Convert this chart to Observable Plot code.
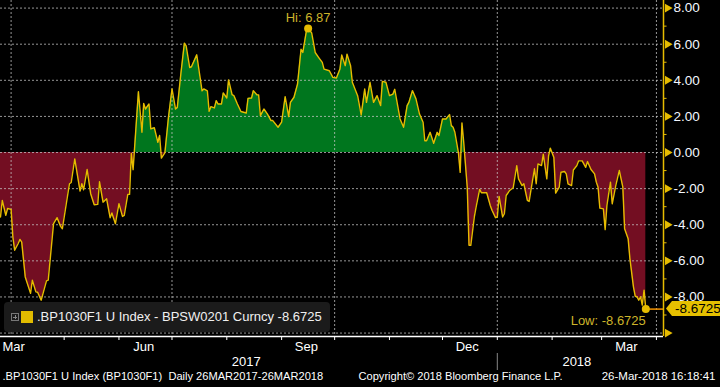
<!DOCTYPE html>
<html>
<head>
<meta charset="utf-8">
<script src="https://cdn.jsdelivr.net/npm/d3@7"></script>
<script src="https://cdn.jsdelivr.net/npm/@observablehq/plot@0.6"></script>
<style>
  html, body { margin: 0; padding: 0; background: #000; }
  #wrap { position: relative; width: 720px; height: 387px; overflow: hidden; background: #000; }
  #legend { position: absolute; left: 4px; top: 302px; width: 326px; height: 30px; background: #1b1b1b; border-radius: 4px;
            font-family: "Liberation Sans", Arial, sans-serif; font-size: 13px; color: #f0f0f0; }
  #legend .ico { position: absolute; left: 7px; top: 11px; width: 6px; height: 6px; border: 1px solid #777; }
  #legend .ico:before { content: ""; position: absolute; left: 1px; top: 3px; width: 4px; height: 1px; background: #888; }
  #legend .ico:after { content: ""; position: absolute; left: 3px; top: 1px; width: 1px; height: 4px; background: #888; }
  #legend .sw { position: absolute; left: 17px; top: 9px; width: 12px; height: 12px; background: #e2bc00; }
  #legend .tx { position: absolute; left: 33px; top: 7px; white-space: nowrap; }
</style>
</head>
<body>
<div id="wrap"></div>
<script>
// ---- data ----
const seriesName = ".BP1030F1 U Index - BPSW0201 Curncy";
const startDate = "2017-03-26";
// days since 26 Mar 2017
const dayOffsets = [
  0,1,3,4,6,7,8,10,11,12,14,17,18,20,21,23,26,27,30,32,34,35,39,40,42,45,46,47,49,51,53,55,56,58,60,62,63,65,67,69,70,72,73,
  74,75,78,80,81,82,84,85,87,89,90,91,93,95,97,99,100,102,104,105,107,108,111,114,115,117,118,119,121,122,123,125,126,128,129,
  131,132,134,136,139,140,142,143,145,146,147,149,151,153,154,157,159,161,163,164,166,168,170,171,173,174,176,178,180,182,183,
  186,188,190,192,193,195,196,198,199,202,204,205,206,207,209,211,213,215,216,218,220,222,223,225,226,228,230,231,233,235,237,
  239,240,241,243,245,247,248,250,252,254,255,256,257,259,260,261,262,264,265,266,268,269,271,272,275,277,278,280,281,282,284,
  285,286,288,290,292,293,295,296,298,299,300,302,303,304,306,307,309,310,311,313,314,316,317,319,320,321,323,324,326,327,329,
  331,332,334,336,337,338,339,341,342,343,345,346,348,350,352,353,355,356,358,359,360,361,362,363,364,365
];
const values = [
  -3.57,-2.65,-3.48,-3.10,-3.15,-4.68,-5.41,-5.04,-4.81,-4.96,-6.89,-7.80,-7.07,-7.72,-7.74,-8.18,-7.11,-7.07,-3.94,-3.61,-4.09,-4.22,-1.73,-1.66,-0.35,-2.14,-1.73,-2.06,-0.94,-2.28,-2.89,-2.87,-1.62,-2.75,-2.56,-3.61,-3.35,-3.94,-2.83,-3.54,-3.48,-2.32,-2.32,
  -0.05,-0.95,3.37,1.12,2.72,2.41,2.69,1.31,1.37,0.57,0.94,-0.31,0.00,1.95,3.52,2.41,2.50,4.35,6.06,5.91,4.71,4.75,5.41,3.42,3.52,3.42,2.28,2.54,2.47,2.87,2.69,2.69,3.30,3.02,4.02,
  3.20,3.15,2.69,2.27,2.19,3.00,3.02,3.42,3.20,3.19,2.04,2.41,2.13,1.77,1.77,1.40,1.68,3.09,1.99,2.78,3.06,3.79,5.72,5.54,6.72,6.87,6.63,5.54,5.26,4.99,4.62,
  4.53,4.16,4.13,4.62,5.40,4.81,5.45,4.81,3.89,3.15,2.08,2.78,3.52,2.78,3.89,2.78,3.15,2.60,3.94,3.89,3.15,3.24,3.50,2.40,1.86,1.40,2.60,2.78,3.43,2.97,2.13,
  1.68,0.65,0.65,1.12,0.51,1.12,0.94,1.86,1.86,2.10,1.49,1.40,1.12,0.00,-1.10,1.64,0.57,-1.92,-5.14,-5.14,-3.57,-3.02,-2.04,-2.23,-2.23,-2.93,-3.20,-3.61,-3.57,-2.43,-3.57,
  -3.39,-2.38,-2.10,-1.95,-0.73,-1.46,-1.83,-1.73,-2.65,-2.71,-2.10,-0.90,-1.73,-0.63,-0.72,-0.09,-1.46,-0.18,0.24,-0.28,-2.25,-1.92,-1.09,-1.05,-1.18,-1.73,-1.83,-0.97,-0.72,-0.46,-0.46,
  -0.82,-0.50,-0.94,-1.18,-1.64,-1.92,-3.08,-3.12,-4.27,-2.93,-1.64,-2.84,-1.83,-0.99,-1.92,-4.22,-4.77,-5.88,-7.44,-7.96,-7.99,-8.18,-7.99,-8.45,-7.62,-8.6725
];
const yTickValues = [8, 6, 4, 2, 0, -2, -4, -6, -8];
const yTickMarks = [8, 6, 4, 2, 0, -2, -4, -6, -8, -10];
const yMinorTicks = [7, 5, 3, 1, -1, -3, -5, -7, -9];
const monthTickDates = ["2017-05-01","2017-06-01","2017-07-01","2017-08-01","2017-09-01","2017-10-01","2017-11-01","2017-12-01","2018-01-01","2018-02-01","2018-03-01","2018-04-01"];
const gridDates = ["2017-04-01","2017-07-01","2017-10-01","2018-01-01","2018-04-01"];
const monthLabels = ["Mar","Jun","Sep","Dec","Mar"];
const monthLabelDates = ["2017-03-26","2017-06-15","2017-09-15","2017-12-15","2018-03-15"];
const yearLabels = ["2017","2018"];
const yearLabelDates = ["2017-08-12","2018-02-15"];
const yearSeparatorDate = "2018-01-01";
const footerLeft = ".BP1030F1 U Index (BP1030F1)  Daily 26MAR2017-26MAR2018";
const footerMid = "Copyright\u00a9 2018 Bloomberg Finance L.P.";
const footerRight = "26-Mar-2018 16:18:41";

// ---- build ----
const parse = d3.utcParse("%Y-%m-%d");
const start = parse(startDate);
const data = dayOffsets.map((d, i) => ({date: d3.utcDay.offset(start, d), value: values[i]}));
const xEnd = d3.utcDay.offset(start, 375);
const yDomain = [-10.19, 8.42];

// add zero crossings so the two fills meet exactly at the baseline
const fillData = [];
for (let i = 0; i < data.length; i++) {
  const a = data[i], b = data[i + 1];
  fillData.push(a);
  if (b && a.value * b.value < 0) {
    const t = a.value / (a.value - b.value);
    fillData.push({date: new Date(+a.date + t * (b.date - a.date)), value: 0});
  }
}
const hi = data.reduce((m, d) => d.value > m.value ? d : m, data[0]);
const lo = data.reduce((m, d) => d.value < m.value ? d : m, data[0]);
const last = data[data.length - 1];

const monthRows = monthLabels.map((label, i) => ({label, date: parse(monthLabelDates[i])}));
const yearRows = yearLabels.map((label, i) => ({label, date: parse(yearLabelDates[i])}));

const GOLD = "#e6bc00";
const LABEL = "#cdb42a";
const font = "Liberation Sans, Arial, sans-serif";
const pxPerUnit = 336 / (yDomain[1] - yDomain[0]);
const yBase = yDomain[0];

const chart = Plot.plot({
  width: 720, height: 387,
  marginLeft: 0, marginRight: 57, marginTop: 0, marginBottom: 51,
  style: {background: "#000", color: "#fff", fontFamily: font, fontSize: "13px"},
  x: {type: "utc", domain: [start, xEnd], axis: null},
  y: {domain: yDomain, axis: null},
  marks: [
    Plot.areaY(fillData, {x: "date", y1: 0, y2: d => Math.max(0, d.value), fill: "#00761e", curve: "linear"}),
    Plot.areaY(fillData, {x: "date", y1: 0, y2: d => Math.min(0, d.value), fill: "#730e22", curve: "linear"}),
    Plot.ruleY(yTickMarks, {stroke: "#c8c8c8", strokeOpacity: 0.75, strokeDasharray: "2,2", strokeWidth: 1}),
    Plot.ruleX(gridDates.map(parse), {stroke: "#c8c8c8", strokeOpacity: 0.75, strokeDasharray: "2,2", strokeWidth: 1}),
    Plot.line(data, {x: "date", y: "value", stroke: GOLD, strokeWidth: 1.4, curve: "linear"}),
    // hi / low
    Plot.dot([hi], {x: "date", y: "value", r: 4, fill: GOLD}),
    Plot.text([hi], {x: "date", y: "value", text: d => "Hi: " + d.value.toFixed(2), dy: -11, fill: LABEL, fontSize: 13}),
    Plot.ruleY([last], {x1: "date", x2: () => xEnd, y: "value", stroke: "#f39200", strokeWidth: 1.5}),
    Plot.dot([lo], {x: "date", y: "value", r: 4, fill: GOLD}),
    Plot.text([lo], {x: "date", y: "value", text: d => "Low: " + d.value, dy: 12, textAnchor: "end", fill: LABEL, fontSize: 13}),
    // axes lines
    Plot.ruleY([yBase], {stroke: "#fff", strokeWidth: 1.5}),
    Plot.ruleX([xEnd], {stroke: GOLD, strokeWidth: 1.5}),
    // right axis ticks
    Plot.dot(yTickMarks, {x: () => xEnd, y: d => d, symbol: "triangle", rotate: 90, r: 3.3, fill: GOLD, dx: 4}),
    Plot.ruleY(yMinorTicks, {x1: () => xEnd, x2: () => d3.utcDay.offset(xEnd, 2.6), y: d => d, stroke: GOLD, strokeWidth: 1}),
    Plot.text(yTickValues, {x: () => xEnd, y: d => d, text: d => d.toFixed(2), dx: 10, textAnchor: "start", fill: "#f4f8ff", fontSize: 13.5}),
    // bottom axis
    Plot.ruleX(monthTickDates.map(parse), {y1: yBase, y2: yBase - 4 / pxPerUnit, stroke: "#fff", strokeWidth: 1}),
    Plot.text(monthRows.slice(0, 1), {x: "date", y: () => yBase, dy: 10, dx: 2, text: "label", fill: "#fff", fontSize: 13, textAnchor: "start"}),
    Plot.text(monthRows.slice(1), {x: "date", y: () => yBase, dy: 10, text: "label", fill: "#fff", fontSize: 13, textAnchor: "middle"}),
    Plot.text(yearRows, {x: "date", y: () => yBase, dy: 25, text: "label", fill: "#fff", fontSize: 13}),
    Plot.ruleX([parse(yearSeparatorDate)], {y1: yBase - 17 / pxPerUnit, y2: yBase - 34 / pxPerUnit, stroke: "#888", strokeWidth: 1}),
    // footer
    Plot.text([footerLeft], {frameAnchor: "bottom-left", dx: 2, dy: 43, text: d => d, textAnchor: "start", fill: "#fff", fontSize: 11.1}),
    Plot.text([footerMid], {frameAnchor: "bottom-left", dx: 358, dy: 43, text: d => d, textAnchor: "start", fill: "#fff", fontSize: 11.1}),
    Plot.text([footerRight], {frameAnchor: "bottom-right", dx: 52, dy: 43, text: d => d, textAnchor: "end", fill: "#fff", fontSize: 11.5})
  ]
});

// last value tag on the right axis
const ys = chart.scale("y");
const py = ys.apply(last.value);
const g = d3.select(chart).append("g");
g.append("path")
  .attr("d", `M666,${py} L672,${py - 7.5} L720,${py - 7.5} L720,${py + 7.5} L672,${py + 7.5} Z`)
  .attr("fill", "#e6c000");
g.append("text").attr("x", 675).attr("y", py).attr("dy", "0.35em")
  .attr("text-anchor", "start")
  .attr("font-family", font).attr("font-size", 13.5).attr("fill", "#000")
  .text(String(last.value));

const wrap = document.getElementById("wrap");
wrap.appendChild(chart);
const lg = document.createElement("div");
lg.id = "legend";
lg.innerHTML = `<div class="ico"></div><div class="sw"></div><div class="tx">${seriesName} ${last.value}</div>`;
wrap.appendChild(lg);
</script>
</body>
</html>
